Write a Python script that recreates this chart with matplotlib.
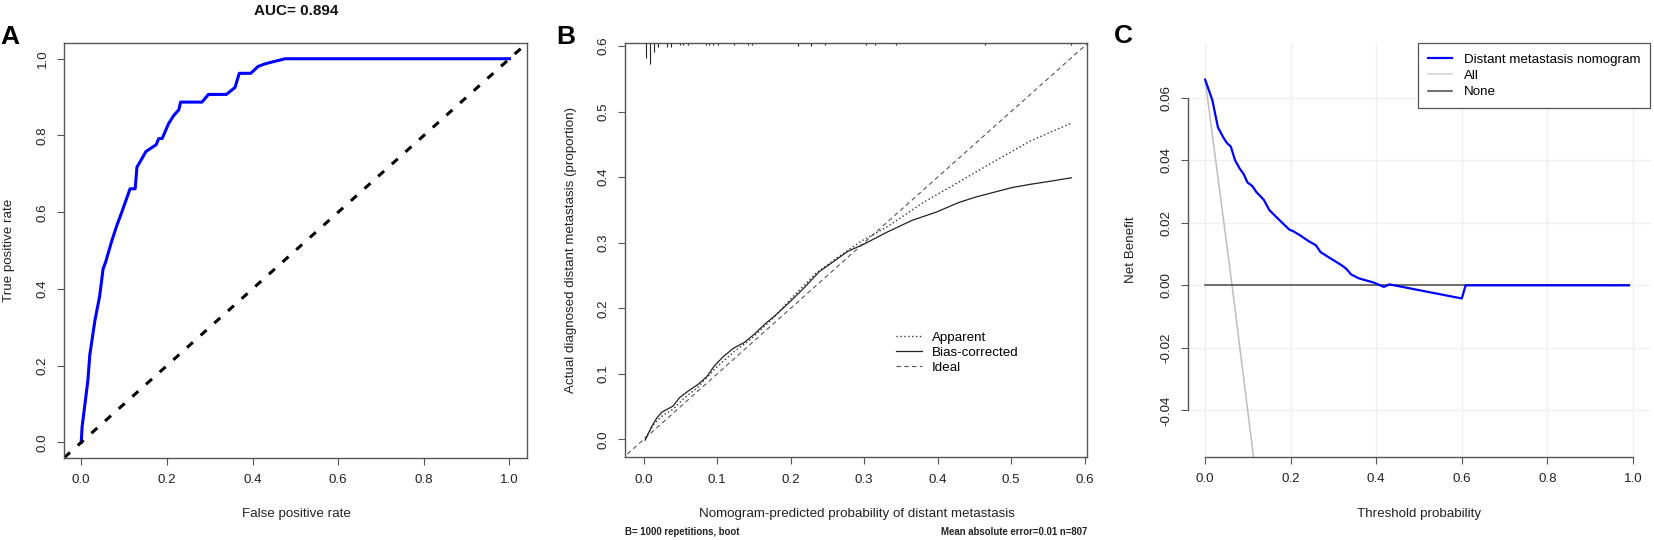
import numpy as np
import matplotlib
matplotlib.use("Agg")
import matplotlib.pyplot as plt
import matplotlib.transforms as mtransforms
from matplotlib.lines import Line2D

plt.rcParams['font.family'] = ['Liberation Sans', 'DejaVu Sans']
plt.rcParams['axes.unicode_minus'] = False

W, H = 1654, 540

# ---- A: ROC curve
roc_fpr = [0.0, 0.002, 0.0155, 0.020, 0.032, 0.043, 0.051, 0.057, 0.071, 0.083, 0.095,
           0.114, 0.126, 0.130, 0.151, 0.175, 0.181, 0.189, 0.204, 0.216, 0.228, 0.232,
           0.282, 0.297, 0.339, 0.359, 0.369, 0.396, 0.413, 0.430, 0.476, 1.0]
roc_tpr = [0.0, 0.040, 0.161, 0.228, 0.318, 0.381, 0.452, 0.470, 0.524, 0.565, 0.601,
           0.661, 0.661, 0.717, 0.758, 0.776, 0.792, 0.792, 0.831, 0.852, 0.867, 0.887,
           0.887, 0.907, 0.907, 0.925, 0.962, 0.962, 0.980, 0.987, 1.0, 1.0]
auc_value = 0.894

# ---- B: calibration curve
app_pred = [0.002, 0.015, 0.025, 0.040, 0.054, 0.074, 0.098, 0.122, 0.147, 0.176, 0.205,
            0.234, 0.263, 0.297, 0.331, 0.380, 0.428, 0.477, 0.526, 0.581]
app_obs = [0.002, 0.025, 0.036, 0.046, 0.062, 0.080, 0.109, 0.133, 0.154, 0.185, 0.220,
           0.253, 0.277, 0.303, 0.324, 0.361, 0.392, 0.424, 0.455, 0.482]
bc_pred = [0.002, 0.011, 0.018, 0.025, 0.032, 0.040, 0.049, 0.062, 0.074, 0.086, 0.096,
           0.108, 0.122, 0.137, 0.151, 0.166, 0.180, 0.200, 0.219, 0.239, 0.258, 0.278,
           0.300, 0.331, 0.365, 0.399, 0.428, 0.453, 0.477, 0.501, 0.526, 0.555, 0.582]
bc_obs = [-0.001, 0.020, 0.033, 0.042, 0.046, 0.051, 0.064, 0.075, 0.084, 0.096, 0.112,
          0.126, 0.139, 0.148, 0.161, 0.177, 0.190, 0.211, 0.232, 0.256, 0.271, 0.287,
          0.298, 0.316, 0.334, 0.347, 0.361, 0.370, 0.377, 0.384, 0.389, 0.394, 0.399]
rug_x = [0.0027, 0.0086, 0.0144, 0.0199, 0.0313, 0.0372, 0.0494, 0.0539, 0.0599, 0.0844,
         0.0889, 0.0947, 0.1007, 0.1233, 0.1415, 0.1470, 0.2104, 0.2277, 0.2468, 0.302,
         0.315, 0.343, 0.465, 0.582]
rug_px = [15, 21, 9, 4, 4, 4, 2, 2, 2, 2, 2, 2, 2, 1.5, 2, 2, 2.3, 2.3, 1.5, 2, 1.5, 2, 2, 1.5]
foot_left = "B= 1000 repetitions, boot"
foot_right = "Mean absolute error=0.01 n=807"

# ---- C: decision curve
dca_thr = [0.0, 0.017, 0.030, 0.043, 0.051, 0.060, 0.070, 0.081, 0.090, 0.099, 0.110,
           0.120, 0.137, 0.150, 0.163, 0.178, 0.197, 0.206, 0.223, 0.240, 0.259, 0.270,
           0.291, 0.317, 0.330, 0.341, 0.360, 0.394, 0.418, 0.431, 0.600, 0.609, 0.991]
dca_nb = [0.0658, 0.0592, 0.0505, 0.0472, 0.0455, 0.0444, 0.0400, 0.0373, 0.0356, 0.0329,
          0.0318, 0.0298, 0.0274, 0.0241, 0.0223, 0.0203, 0.0178, 0.0173, 0.0159, 0.0143,
          0.0128, 0.0106, 0.0088, 0.0066, 0.0053, 0.0035, 0.0022, 0.0009, -0.0005, 0.0003,
          -0.0042, 0.0, 0.0]
all_thr = [0.0, 0.063, 0.113, 0.125]
all_nb = [0.0658, 0.0, -0.0548, -0.067]
none_thr = [0.0, 0.991]
none_nb = [0.0, 0.0]

fig = plt.figure(figsize=(W / 100, H / 100), dpi=100)


def px_axes(l, t, r, b):
    return fig.add_axes([l / W, 1 - b / H, (r - l) / W, (b - t) / H])


def ftext(x, y, s, **kw):
    kw.setdefault('ha', 'center')
    kw.setdefault('va', 'center')
    fig.text(x / W, 1 - y / H, s, **kw)


FS = 9.6
TXT = '#222222'
EDGE = '#555555'


def style_ticks(ax, xfmt, yfmt):
    ax.tick_params(direction='out', length=5.3, width=0.8, color=EDGE,
                   labelsize=FS, labelcolor=TXT)
    ax.tick_params(axis='x', pad=6.5)
    ax.tick_params(axis='y', pad=5.8, labelrotation=90)
    ax.set_xticklabels([xfmt % v for v in ax.get_xticks()])
    ax.set_yticklabels([yfmt % v for v in ax.get_yticks()])
    for lab in ax.get_yticklabels():
        lab.set_va('center')


# ---------------- A ----------------
axA = px_axes(64.1, 43.4, 526.6, 457.7)
axA.plot(roc_fpr, roc_tpr, color='#0000FF', lw=2.2, solid_joinstyle='round')
axA.plot([-0.04, 1.04], [-0.04, 1.04], color='black', lw=2.2, ls=(0, (2.6, 3.4)))
axA.set_xlim(-0.04, 1.04)
axA.set_ylim(-0.04, 1.04)
axA.set_xticks(np.arange(0, 1.01, 0.2))
axA.set_yticks(np.arange(0, 1.01, 0.2))
style_ticks(axA, "%.1f", "%.1f")
for s in axA.spines.values():
    s.set_color(EDGE)
    s.set_linewidth(1.0)

ftext(296, 11, "AUC= %.3f" % auc_value, fontsize=11, fontweight='bold', color='#111')
ftext(10, 37, "A", fontsize=19, fontweight='bold')
ftext(296, 514.5, "False positive rate", fontsize=FS, color=TXT)
ftext(8.6, 250, "True positive rate", fontsize=FS, color=TXT, rotation=90)

# ---------------- B ----------------
axB = px_axes(625.4, 43.3, 1087.1, 457.3)
axB.plot([-0.03, 0.61], [-0.03, 0.61], color='#555555', lw=0.8, ls=(0, (4, 3)))
axB.plot(app_pred, app_obs, color='#333333', lw=1.0, ls=(0, (1, 1.8)))
axB.plot(bc_pred, bc_obs, color='#222222', lw=0.9)
trans = mtransforms.blended_transform_factory(axB.transData, axB.transAxes)
axB.vlines(rug_x, 1 - np.array(rug_px) / 414.0, 1, transform=trans, color='#222222', lw=0.8)
axB.set_xlim(-0.0249, 0.6033)
axB.set_ylim(-0.0272, 0.604)
axB.set_xticks(np.arange(0, 0.61, 0.1))
axB.set_yticks(np.arange(0, 0.61, 0.1))
style_ticks(axB, "%.1f", "%.1f")
for s in axB.spines.values():
    s.set_color(EDGE)
    s.set_linewidth(1.0)
handlesB = [Line2D([], [], color='#333333', lw=1.0, ls=(0, (1, 1.8))),
            Line2D([], [], color='#222222', lw=0.9),
            Line2D([], [], color='#555555', lw=0.8, ls=(0, (4, 3)))]
axB.legend(handlesB, ["Apparent", "Bias-corrected", "Ideal"], loc='center left',
           bbox_to_anchor=(0.5707, 0.2531), frameon=False, fontsize=FS, borderpad=0,
           handlelength=1.95, handletextpad=0.8, labelspacing=0.2)

ftext(566, 37, "B", fontsize=19, fontweight='bold')
ftext(856.5, 514.5, "Nomogram-predicted probability of distant metastasis", fontsize=FS, color=TXT)
ftext(571, 250, "Actual diagnosed distant metastasis (proportion)", fontsize=FS, color=TXT,
      rotation=90)
ftext(625.4, 531.7, foot_left, fontsize=6.9, fontweight='bold', ha='left', color=TXT)
ftext(1087.1, 531.7, foot_right, fontsize=6.9, fontweight='bold', ha='right', color=TXT)

# ---------------- C ----------------
axC = px_axes(1188, 43.3, 1650, 457)
axC.set_xlim(-0.04, 1.04)
axC.set_ylim(-0.0549, 0.0774)
axC.set_xticks(np.arange(0, 1.01, 0.2))
axC.set_yticks([-0.04, -0.02, 0.0, 0.02, 0.04, 0.06])
axC.set_axisbelow(True)
axC.grid(True, color='#EFEFEF', lw=0.9)
axC.plot(all_thr, all_nb, color='#BEBEBE', lw=1.1)
axC.plot(none_thr, none_nb, color='#555555', lw=1.2)
axC.plot(dca_thr, dca_nb, color='#0000FF', lw=1.6)
style_ticks(axC, "%.1f", "%.2f")
axC.spines['top'].set_visible(False)
axC.spines['right'].set_visible(False)
axC.spines['left'].set_bounds(-0.04, 0.06)
axC.spines['bottom'].set_bounds(0, 1)
for k in ('left', 'bottom'):
    axC.spines[k].set_color(EDGE)
    axC.spines[k].set_linewidth(1.0)
handlesC = [Line2D([], [], color='#0000FF', lw=1.6),
            Line2D([], [], color='#D0D0D0', lw=1.1),
            Line2D([], [], color='#555555', lw=1.2)]
legC = axC.legend(handlesC, ["Distant metastasis nomogram", "All", "None"], loc='upper right',
                  bbox_to_anchor=(1, 1), borderaxespad=0, fontsize=FS, fancybox=False,
                  framealpha=1, edgecolor=EDGE, borderpad=0.75, handlelength=1.8,
                  handletextpad=0.9, labelspacing=0.3)
legC.get_frame().set_linewidth(0.9)

ftext(1123, 36, "C", fontsize=19, fontweight='bold')
ftext(1419, 513.7, "Threshold probability", fontsize=FS, color=TXT)
ftext(1131, 250, "Net Benefit", fontsize=FS, color=TXT, rotation=90)

fig.savefig("out.png", dpi=100)
